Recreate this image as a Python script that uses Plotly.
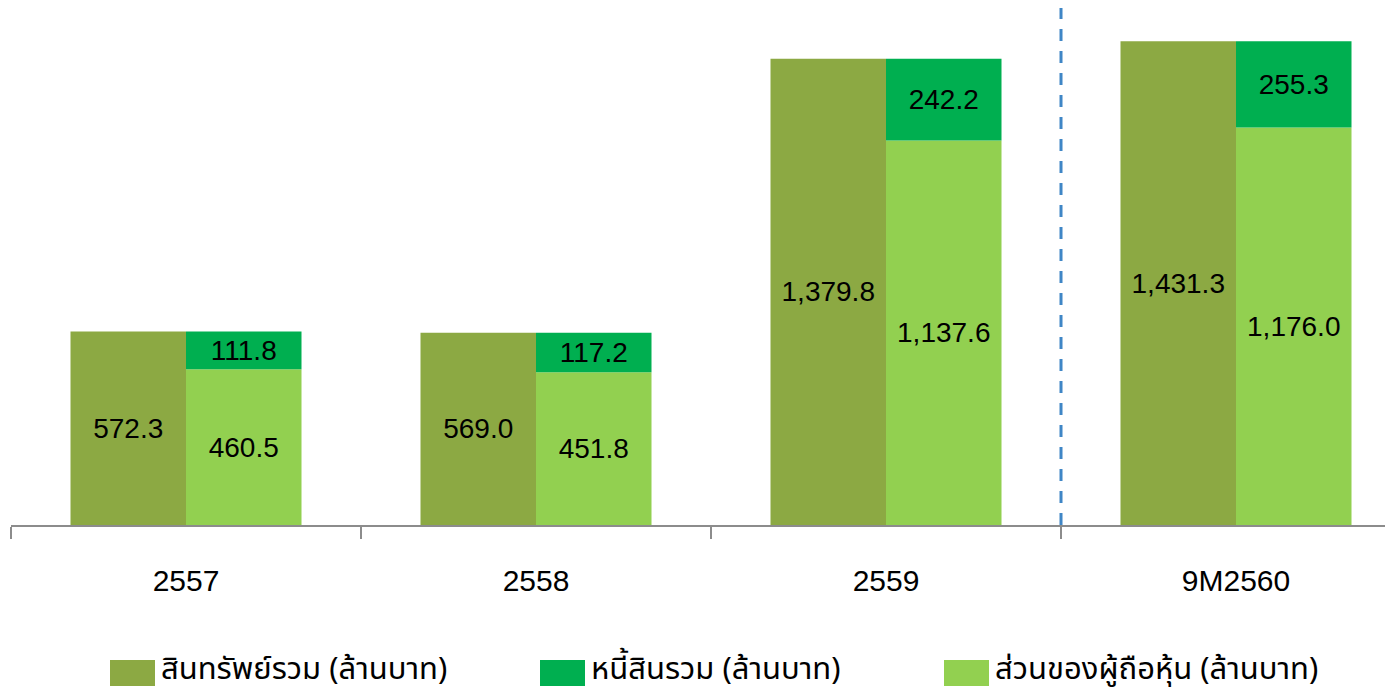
import plotly.graph_objects as go

categories = ["2557", "2558", "2559", "9M2560"]
total_assets = [572.3, 569.0, 1379.8, 1431.3]
liabilities = [111.8, 117.2, 242.2, 255.3]
equity = [460.5, 451.8, 1137.6, 1176.0]
series_names = ["สินทรัพย์รวม (ล้านบาท)", "หนี้สินรวม (ล้านบาท)", "ส่วนของผู้ถือหุ้น (ล้านบาท)"]

C_ASSET = "#8CA943"
C_LIAB = "#00AF50"
C_EQ = "#92D050"
NUM_FONT = "Liberation Sans, Arial, sans-serif"
THAI_FONT = "Noto Sans Thai, Tahoma, Noto Sans, sans-serif"

OFF = 8  # page body margin
W, H = 1393 - OFF, 693 - OFF
BASE_Y = 525 - OFF
L, R, T = 11 - OFF, 0, 0
B = H - BASE_Y
plot_w = W - L - R
plot_h = H - T - B
cat_px = 350.0
px_per_unit = 0.338

fig = go.Figure()
bw = 0.33
common = dict(texttemplate="%{y:,.1f}", textposition="inside", insidetextanchor="middle",
              constraintext="none", width=bw, showlegend=False,
              textfont=dict(family=NUM_FONT, size=28, color="black"))
fig.add_trace(go.Bar(x=categories, y=total_assets, name=series_names[0],
                     marker=dict(color=C_ASSET, line=dict(width=0)), offset=-bw, **common))
fig.add_trace(go.Bar(x=categories, y=equity, name=series_names[2],
                     marker=dict(color=C_EQ, line=dict(width=0)), offset=0, **common))
fig.add_trace(go.Bar(x=categories, y=liabilities, base=equity, name=series_names[1],
                     marker=dict(color=C_LIAB, line=dict(width=0)), offset=0, **common))

# dashed separator between 2559 and 9M2560
fig.add_shape(type="line", xref="x", yref="paper", x0=2.5, x1=2.5, y0=0, y1=1,
              line=dict(color="#3F86C6", width=3, dash="12px,10px"))

# custom legend (reference pixel coords converted to paper coords)
def px_x(p):
    return (p - OFF - L) / plot_w

def px_y(p):
    return (BASE_Y - (p - OFF)) / plot_h

legend_items = [
    (110, C_ASSET, series_names[0]),
    (540, C_LIAB, series_names[1]),
    (944, C_EQ, series_names[2]),
]
for x0, col, name in legend_items:
    fig.add_shape(type="rect", xref="paper", yref="paper",
                  x0=px_x(x0), x1=px_x(x0 + 45), y0=px_y(686), y1=px_y(660),
                  fillcolor=col, line=dict(width=0))
    fig.add_annotation(xref="paper", yref="paper", x=px_x(x0 + 50), y=px_y(669),
                       text=name, showarrow=False, xanchor="left", yanchor="middle",
                       borderpad=0,
                       font=dict(family=THAI_FONT, size=31, color="black"))

fig.update_layout(
    width=W, height=H,
    margin=dict(l=L, r=R, t=T, b=B),
    barmode="overlay",
    plot_bgcolor="white", paper_bgcolor="white",
    showlegend=False,
    xaxis=dict(
        type="category",
        range=[-0.5, -0.5 + plot_w / cat_px],
        showline=True, linecolor="#8C8C8C", linewidth=2,
        ticks="outside", tickson="boundaries", ticklen=12, tickcolor="#8C8C8C", tickwidth=2,
        ticklabelstandoff=28,
        tickfont=dict(family=NUM_FONT, size=30, color="black"),
        showgrid=False, zeroline=False,
    ),
    yaxis=dict(
        range=[0, plot_h / px_per_unit],
        visible=False, showgrid=False, zeroline=False,
    ),
)

fig.write_html("out.html")
